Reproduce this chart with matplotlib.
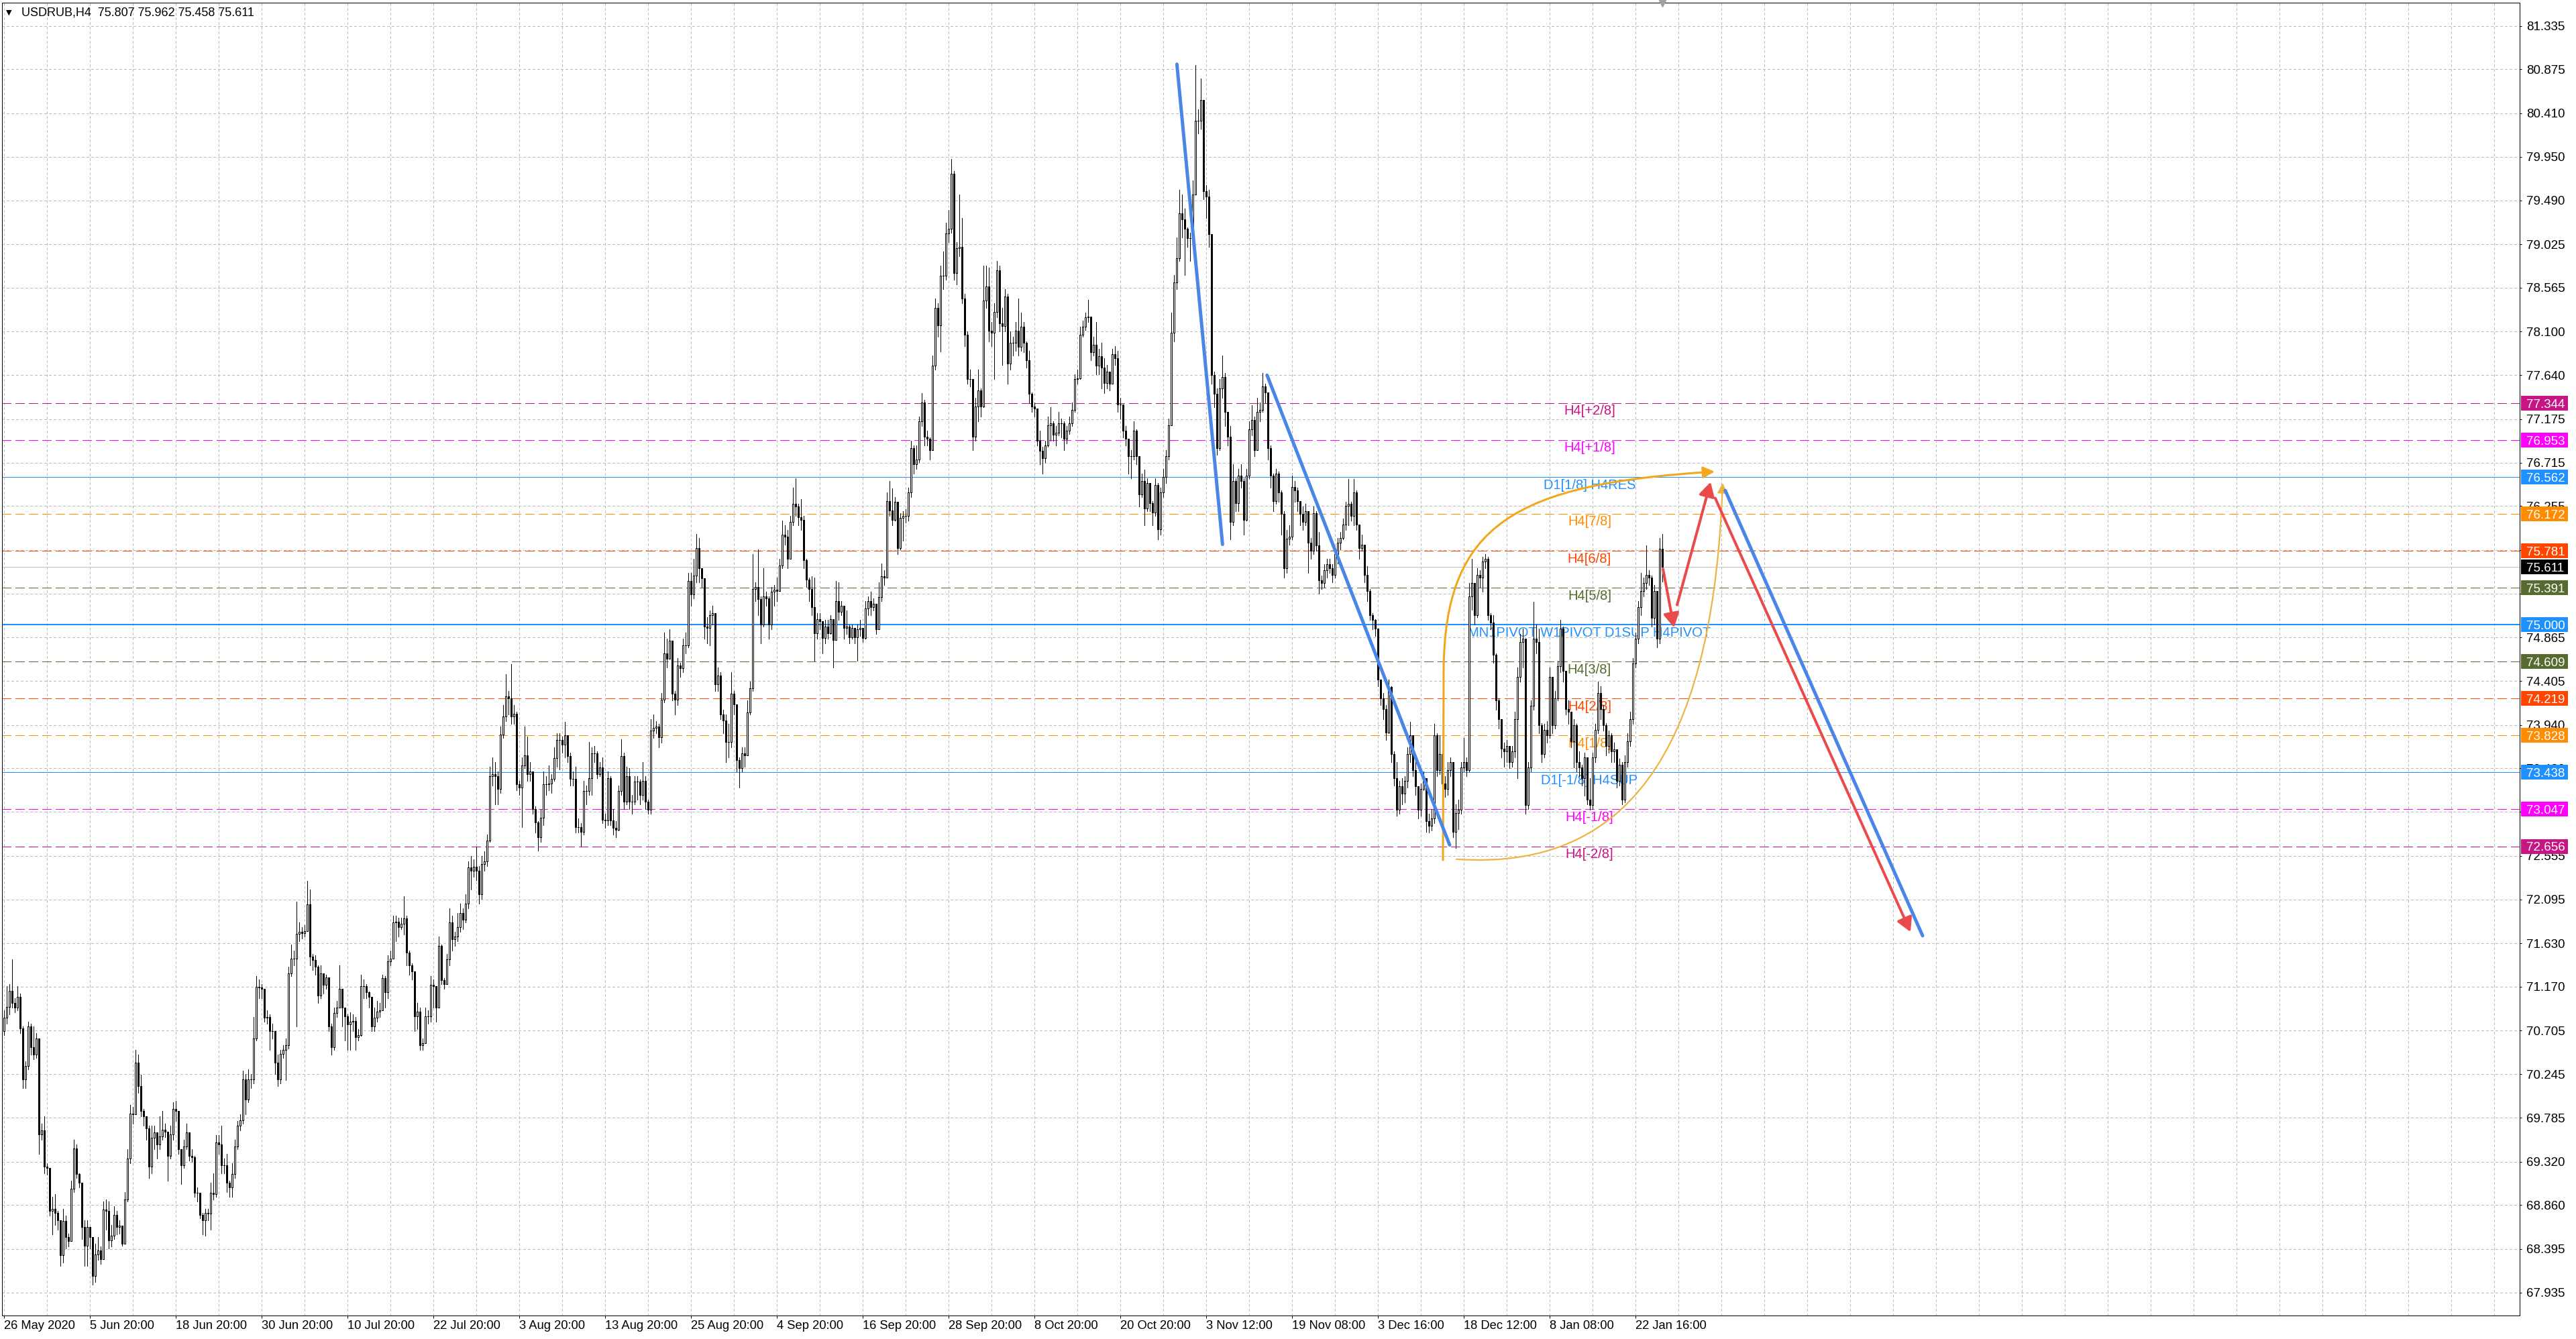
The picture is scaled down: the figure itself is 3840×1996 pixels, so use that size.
import numpy as np
import matplotlib
matplotlib.use("Agg")
import matplotlib.pyplot as plt
from matplotlib.patches import FancyArrowPatch, Rectangle
from matplotlib.path import Path
import matplotlib.transforms as mtransforms

plt.rcParams['font.family'] = ['Liberation Sans', 'DejaVu Sans']
plt.rcParams['lines.scale_dashes'] = False

# ---------------- data ----------------
symbol = "USDRUB,H4"
last_ohlc = [75.807, 75.962, 75.458, 75.611]
first_open = 70.70

closes = [
    70.84, 70.96, 71.13, 71.00, 70.95, 71.06, 70.73, 70.19, 70.33, 70.75,
    70.53, 70.45, 70.62, 69.61, 69.65, 69.27, 69.25, 68.80, 68.82, 68.78,
    68.70, 68.33, 68.69, 68.52, 68.48, 69.03, 69.46, 69.19, 69.10, 68.63,
    68.43, 68.63, 68.52, 68.11, 68.34, 68.38, 68.29, 68.81, 68.80, 68.49,
    68.54, 68.76, 68.63, 68.64, 68.45, 68.92, 69.35, 69.83, 69.82, 70.37,
    70.12, 69.86, 69.80, 69.67, 69.27, 69.57, 69.63, 69.50, 69.59, 69.66,
    69.64, 69.38, 69.61, 69.88, 69.86, 69.45, 69.28, 69.48, 69.63, 69.38,
    69.37, 68.99, 68.99, 68.76, 68.70, 68.78, 68.77, 68.99, 68.98, 69.52,
    69.50, 69.28, 69.28, 69.10, 69.05, 69.19, 69.48, 69.70, 69.76, 70.19,
    69.98, 70.19, 70.19, 70.62, 71.17, 71.16, 71.15, 70.84, 70.85, 70.70,
    70.70, 70.37, 70.19, 70.46, 70.50, 70.55, 71.31, 71.47, 71.47, 71.73,
    71.75, 71.74, 71.76, 72.04, 71.49, 71.45, 71.38, 71.08, 71.31, 71.19,
    71.27, 70.75, 70.53, 70.89, 70.95, 71.15, 70.95, 70.86, 70.77, 70.80,
    70.81, 70.64, 70.66, 71.18, 71.18, 71.11, 71.06, 70.75, 70.84, 70.91,
    70.92, 71.26, 71.11, 71.44, 71.47, 71.85, 71.86, 71.80, 71.84, 71.89,
    71.53, 71.40, 71.33, 70.86, 70.91, 70.55, 70.57, 70.86, 70.86, 71.19,
    71.18, 70.95, 71.60, 71.24, 71.20, 71.46, 71.85, 71.67, 71.70, 71.80,
    71.95, 71.88, 72.05, 72.43, 72.40, 72.44, 72.40, 72.15, 72.47, 72.50,
    72.72, 73.40, 73.42, 73.40, 73.26, 73.84, 74.03, 74.24, 74.22, 74.03,
    74.06, 73.31, 73.28, 73.51, 73.62, 73.42, 73.45, 73.05, 72.91, 72.75,
    72.96, 73.31, 73.31, 73.32, 73.37, 73.59, 73.78, 73.78, 73.73, 73.83,
    73.61, 73.37, 73.37, 72.86, 72.86, 72.81, 73.24, 73.24, 73.38, 73.64,
    73.64, 73.42, 73.49, 72.94, 72.93, 73.38, 72.93, 72.85, 72.83, 73.24,
    73.61, 73.13, 73.40, 73.13, 73.13, 73.34, 73.34, 73.20, 73.35, 73.13,
    73.04, 73.88, 73.91, 73.92, 73.81, 74.21, 74.70, 74.64, 74.83, 74.27,
    74.21, 74.57, 74.54, 74.78, 74.78, 75.46, 75.32, 75.52, 75.81, 75.60,
    75.49, 74.98, 74.97, 75.10, 75.12, 74.37, 74.46, 74.05, 73.99, 73.76,
    73.76, 74.27, 74.16, 73.57, 73.48, 73.64, 73.62, 74.07, 74.33, 75.38,
    75.40, 75.27, 75.00, 75.30, 75.28, 75.00, 75.35, 75.37, 75.36, 75.63,
    75.95, 75.93, 75.70, 76.09, 76.28, 76.25, 76.14, 76.11, 75.68, 75.48,
    75.38, 75.19, 74.91, 75.06, 75.04, 74.86, 74.98, 74.91, 75.06, 74.84,
    75.25, 75.14, 75.20, 74.97, 74.98, 74.87, 74.97, 74.87, 74.95, 74.97,
    74.86, 75.17, 75.25, 75.19, 75.22, 74.95, 75.29, 75.51, 75.50, 76.31,
    76.21, 76.11, 76.30, 75.81, 76.13, 76.15, 76.15, 76.40, 76.87, 76.70,
    76.75, 77.15, 77.35, 76.99, 76.97, 76.85, 77.74, 78.35, 78.17, 78.69,
    78.69, 79.14, 79.19, 79.77, 78.72, 78.98, 79.00, 78.45, 78.07, 77.60,
    77.60, 76.99, 77.31, 77.48, 77.31, 78.43, 78.58, 78.11, 78.09, 78.31,
    78.75, 78.19, 78.16, 78.47, 77.76, 77.98, 77.98, 78.11, 77.94, 78.15,
    77.98, 77.80, 77.44, 77.31, 77.29, 76.95, 76.84, 76.76, 76.90, 77.11,
    77.13, 77.01, 77.03, 77.13, 77.13, 76.97, 77.05, 77.13, 77.27, 77.60,
    77.61, 78.07, 78.15, 78.25, 78.26, 77.88, 77.96, 77.74, 77.84, 77.72,
    77.56, 77.68, 77.55, 77.86, 77.82, 77.33, 77.33, 77.05, 76.97, 76.78,
    76.78, 77.05, 76.78, 76.38, 76.52, 76.23, 76.50, 76.29, 76.19, 76.48,
    76.01, 76.40, 76.56, 76.78, 77.11, 78.09, 78.62, 78.88, 79.35, 79.29,
    79.19, 79.09, 79.09, 79.55, 80.33, 80.33, 80.55, 79.59, 79.53, 79.13,
    77.64, 77.44, 76.87, 77.50, 77.62, 77.25, 76.99, 76.09, 76.52, 76.29,
    76.58, 76.52, 76.11, 76.58, 77.07, 77.17, 76.85, 77.25, 77.27, 77.52,
    77.46, 76.87, 76.58, 76.31, 76.60, 76.40, 76.17, 75.60, 75.91, 75.93,
    76.46, 76.42, 76.31, 76.17, 76.09, 76.20, 75.87, 75.78, 76.18, 75.84,
    75.47, 75.44, 75.58, 75.64, 75.60, 75.53, 75.75, 75.87, 75.92, 76.06,
    76.26, 76.28, 76.15, 76.40, 76.06, 75.81, 75.85, 75.53, 75.36, 75.10,
    75.05, 74.96, 74.42, 74.22, 74.11, 73.86, 74.34, 73.63, 73.38, 73.04,
    73.29, 73.21, 73.35, 73.63, 73.83, 73.46, 73.29, 73.04, 73.26, 73.38,
    72.92, 72.87, 72.95, 73.83, 73.46, 73.63, 73.32, 73.26, 73.46, 73.55,
    72.81, 73.01, 73.04, 73.49, 73.55, 73.46, 75.30, 75.44, 75.10, 75.53,
    75.50, 75.67, 75.70, 75.10, 75.02, 74.68, 74.20, 74.00, 73.69, 73.66,
    73.72, 73.55, 73.66, 74.00, 74.45, 74.82, 74.85, 73.09, 73.49, 74.14,
    74.85, 74.82, 73.94, 73.63, 73.89, 73.83, 74.45, 73.94, 74.22, 74.56,
    74.96, 74.51, 74.11, 74.08, 73.77, 73.94, 73.55, 73.49, 73.38, 73.60,
    73.15, 73.09, 73.60, 73.89, 74.28, 74.11, 73.94, 73.72, 73.83, 73.66,
    73.68, 73.35, 73.52, 73.15, 73.55, 73.77, 74.00, 74.59, 74.85, 75.19,
    75.36, 75.44, 75.53, 75.50, 75.07, 75.36, 74.85, 75.807, 75.611,
]

highs = [
    70.92, 71.18, 71.20, 71.46, 71.05, 71.18, 71.10, 70.75, 70.38, 70.80,
    70.78, 70.75, 70.68, 70.00, 69.72, 69.80, 69.30, 69.18, 68.95, 68.98,
    68.80, 68.60, 68.82, 68.75, 68.56, 69.12, 69.55, 69.50, 69.20, 68.85,
    68.70, 68.70, 68.62, 68.40, 68.45, 68.52, 68.42, 68.90, 68.92, 68.90,
    68.65, 68.85, 68.80, 68.70, 68.62, 69.00, 69.45, 69.92, 69.90, 70.50,
    70.45, 70.24, 69.88, 69.80, 69.70, 69.70, 69.70, 69.60, 69.80, 69.86,
    69.72, 69.60, 69.70, 69.95, 69.96, 69.82, 69.45, 69.55, 69.72, 69.62,
    69.45, 69.38, 69.05, 68.95, 68.78, 68.82, 68.82, 69.10, 69.20, 69.60,
    69.60, 69.70, 69.35, 69.40, 69.12, 69.30, 69.55, 69.75, 69.82, 70.28,
    70.25, 70.30, 70.25, 70.85, 71.28, 71.25, 71.20, 71.06, 70.92, 70.88,
    70.78, 70.62, 70.45, 70.50, 70.55, 70.62, 71.38, 71.62, 71.55, 72.07,
    71.85, 71.80, 71.82, 72.29, 72.20, 71.52, 71.50, 71.40, 71.40, 71.31,
    71.30, 71.05, 70.78, 70.95, 71.02, 71.40, 71.15, 70.95, 70.88, 70.90,
    70.88, 70.85, 70.72, 71.30, 71.25, 71.20, 71.12, 71.02, 70.95, 71.02,
    71.00, 71.30, 71.28, 71.50, 71.55, 71.92, 71.92, 71.90, 71.90, 72.13,
    71.92, 71.55, 71.42, 71.15, 71.00, 70.95, 70.62, 70.95, 70.92, 71.28,
    71.25, 71.10, 71.70, 71.62, 71.26, 71.52, 72.00, 71.92, 71.75, 71.95,
    72.05, 72.00, 72.15, 72.50, 72.55, 72.52, 72.65, 72.45, 72.55, 72.60,
    72.78, 73.50, 73.60, 73.55, 73.45, 73.92, 74.15, 74.48, 74.30, 74.58,
    74.15, 74.08, 73.35, 73.60, 73.92, 73.82, 73.55, 73.40, 73.08, 72.92,
    73.05, 73.45, 73.40, 73.51, 73.42, 73.70, 73.85, 73.85, 73.82, 73.97,
    73.80, 73.65, 73.45, 73.50, 72.95, 72.90, 73.35, 73.30, 73.76, 73.70,
    73.72, 73.66, 73.55, 73.60, 73.00, 73.45, 73.40, 73.05, 72.92, 73.30,
    73.79, 73.65, 73.50, 73.48, 73.20, 73.40, 73.40, 73.36, 73.55, 73.40,
    73.15, 74.00, 74.05, 73.98, 73.95, 74.28, 74.92, 74.85, 74.95, 74.80,
    74.30, 74.65, 74.60, 74.85, 74.92, 75.55, 75.55, 75.70, 75.96, 75.92,
    75.60, 75.45, 75.08, 75.15, 75.20, 75.10, 74.55, 74.50, 74.10, 74.05,
    73.95, 74.50, 74.30, 74.10, 73.60, 73.70, 73.70, 74.20, 74.40, 75.75,
    75.45, 75.80, 75.30, 75.60, 75.35, 75.30, 75.40, 75.42, 75.50, 75.70,
    76.10, 76.05, 76.00, 76.15, 76.45, 76.55, 76.28, 76.33, 76.15, 75.70,
    75.50, 75.51, 75.50, 75.12, 75.12, 75.00, 75.05, 75.05, 75.10, 74.90,
    75.46, 75.45, 75.25, 75.20, 75.15, 75.00, 75.00, 74.95, 75.00, 75.05,
    74.95, 75.25, 75.30, 75.35, 75.28, 75.05, 75.45, 75.65, 75.58, 76.40,
    76.52, 76.44, 76.35, 76.25, 76.18, 76.20, 76.22, 76.45, 76.95, 76.90,
    76.90, 77.20, 77.45, 77.38, 77.05, 76.98, 77.85, 78.45, 78.40, 78.80,
    78.95, 79.25, 79.39, 79.93, 79.80, 79.05, 79.55, 79.30, 78.50, 78.10,
    77.70, 77.40, 77.40, 77.70, 77.50, 78.80, 78.80, 78.78, 78.20, 78.40,
    78.85, 78.80, 78.35, 78.55, 78.50, 78.10, 78.05, 78.20, 78.45, 78.30,
    78.20, 78.00, 77.90, 77.46, 77.35, 77.25, 77.05, 76.88, 76.95, 77.20,
    77.30, 77.15, 77.10, 77.25, 77.18, 77.15, 77.10, 77.20, 77.35, 77.65,
    77.70, 78.15, 78.22, 78.30, 78.44, 78.25, 78.05, 78.20, 77.92, 77.98,
    77.82, 77.75, 77.60, 77.92, 77.95, 77.90, 77.40, 77.20, 77.10, 76.97,
    76.85, 77.15, 77.07, 76.75, 76.60, 76.64, 76.55, 76.50, 76.31, 76.55,
    76.50, 76.45, 76.65, 76.85, 77.18, 78.30, 78.70, 79.10, 79.60, 79.55,
    79.40, 79.20, 79.15, 79.70, 80.92, 80.45, 80.78, 80.50, 79.65, 79.60,
    78.66, 77.68, 77.50, 77.60, 77.85, 77.66, 77.25, 77.10, 76.70, 76.55,
    76.65, 76.70, 76.55, 76.65, 77.15, 77.32, 77.20, 77.40, 77.35, 77.66,
    77.55, 77.07, 76.90, 76.60, 76.65, 76.62, 76.42, 76.20, 76.00, 76.05,
    76.58, 76.52, 76.45, 76.30, 76.25, 76.28, 76.15, 75.92, 76.25, 76.20,
    75.98, 75.52, 75.64, 75.70, 75.70, 75.64, 75.80, 75.92, 75.98, 76.12,
    76.30, 76.54, 76.30, 76.54, 76.42, 76.06, 75.95, 75.80, 75.62, 75.38,
    75.12, 75.06, 74.90, 74.40, 74.28, 74.15, 74.42, 74.35, 73.66, 73.55,
    73.35, 73.38, 73.40, 73.70, 73.97, 73.75, 73.60, 73.26, 73.32, 73.45,
    73.35, 73.00, 73.05, 73.95, 73.85, 73.83, 73.65, 73.40, 73.55, 73.60,
    73.45, 73.10, 73.15, 73.55, 73.80, 73.60, 75.44, 75.70, 75.40, 75.60,
    75.58, 75.72, 75.75, 75.72, 75.12, 75.10, 74.70, 74.22, 73.98, 73.75,
    73.78, 73.72, 73.72, 74.08, 74.55, 74.90, 74.96, 74.08, 73.55, 74.20,
    75.24, 75.00, 74.96, 73.96, 73.95, 73.98, 74.55, 74.45, 74.30, 74.62,
    75.05, 74.98, 74.45, 74.20, 74.00, 74.00, 73.95, 73.66, 73.52, 73.65,
    73.60, 73.38, 73.65, 73.95, 74.40, 74.35, 74.15, 73.96, 73.88, 73.85,
    73.75, 73.65, 73.58, 73.55, 73.62, 73.85, 74.08, 74.65, 74.92, 75.25,
    75.55, 75.50, 75.84, 75.58, 75.52, 75.42, 75.30, 75.92, 75.962,
]

lows = [
    70.66, 70.78, 70.88, 70.95, 70.90, 70.92, 70.68, 70.10, 70.10, 70.30,
    70.45, 70.40, 70.42, 69.40, 69.55, 69.20, 69.18, 68.75, 68.55, 68.65,
    68.60, 68.22, 68.25, 68.40, 68.42, 68.85, 69.00, 69.15, 69.05, 68.50,
    68.22, 68.22, 68.40, 68.02, 68.05, 68.28, 68.24, 68.45, 68.60, 68.40,
    68.42, 68.50, 68.55, 68.56, 68.43, 68.45, 68.90, 69.30, 69.72, 69.85,
    70.05, 69.80, 69.70, 69.55, 69.15, 69.20, 69.45, 69.35, 69.45, 69.55,
    69.58, 69.12, 69.35, 69.55, 69.75, 69.40, 69.08, 69.25, 69.45, 69.33,
    69.32, 68.95, 68.90, 68.72, 68.55, 68.54, 68.70, 68.60, 68.92, 68.95,
    69.40, 69.20, 69.20, 69.00, 68.95, 68.95, 69.15, 69.45, 69.65, 69.72,
    69.82, 69.95, 70.10, 70.15, 70.60, 71.05, 71.05, 70.80, 70.78, 70.50,
    70.62, 70.25, 70.12, 70.15, 70.42, 70.18, 70.52, 71.28, 71.40, 70.75,
    71.65, 71.68, 71.70, 71.80, 71.40, 71.35, 71.30, 71.00, 71.05, 71.10,
    71.15, 70.70, 70.45, 70.50, 70.85, 70.95, 70.75, 70.60, 70.50, 70.50,
    70.70, 70.50, 70.60, 70.65, 71.05, 71.05, 70.95, 70.70, 70.70, 70.80,
    70.85, 71.00, 70.95, 71.05, 71.40, 71.55, 71.65, 71.70, 71.78, 71.72,
    71.40, 71.30, 71.25, 70.70, 70.72, 70.50, 70.50, 70.70, 70.78, 70.80,
    70.95, 70.80, 70.95, 71.20, 71.15, 71.30, 71.40, 71.55, 71.60, 71.65,
    71.75, 71.78, 71.85, 72.00, 72.20, 72.33, 72.30, 72.05, 72.10, 72.40,
    72.45, 72.70, 73.30, 73.10, 73.10, 73.22, 73.80, 73.98, 74.05, 73.95,
    73.95, 73.25, 73.20, 72.86, 73.48, 73.35, 73.35, 73.00, 72.80, 72.61,
    72.70, 72.88, 73.20, 73.25, 73.22, 73.35, 73.50, 73.47, 73.65, 73.60,
    73.55, 73.30, 73.30, 72.80, 72.80, 72.66, 72.78, 73.10, 73.20, 73.20,
    73.55, 73.38, 73.40, 72.90, 72.85, 72.88, 72.88, 72.78, 72.75, 72.82,
    73.20, 73.05, 73.10, 73.05, 73.00, 73.10, 73.15, 73.10, 73.15, 73.05,
    73.00, 73.00, 73.80, 73.85, 73.70, 73.75, 74.18, 74.55, 74.70, 74.20,
    74.05, 74.15, 74.45, 74.50, 74.70, 74.76, 75.20, 75.28, 75.45, 75.45,
    75.40, 74.85, 74.80, 74.78, 75.00, 74.30, 74.30, 74.00, 73.85, 73.55,
    73.60, 73.70, 74.05, 73.45, 73.28, 73.45, 73.50, 73.70, 74.05, 74.30,
    75.25, 75.10, 74.80, 74.98, 75.20, 74.85, 74.95, 75.20, 75.25, 75.42,
    75.60, 75.85, 75.60, 75.70, 76.05, 76.15, 76.05, 76.00, 75.60, 75.40,
    75.25, 75.10, 74.62, 74.85, 74.95, 74.70, 74.80, 74.85, 74.90, 74.55,
    74.84, 75.05, 75.10, 74.85, 74.90, 74.80, 74.85, 74.80, 74.62, 74.88,
    74.82, 74.85, 75.10, 75.10, 75.15, 74.90, 74.95, 75.25, 75.42, 75.50,
    76.15, 76.05, 76.10, 75.75, 75.80, 75.89, 76.08, 76.10, 76.35, 76.60,
    76.65, 76.72, 77.10, 76.90, 76.90, 76.75, 76.85, 77.70, 78.05, 77.89,
    78.55, 78.65, 79.05, 79.15, 78.65, 78.60, 78.90, 78.40, 77.95, 77.55,
    77.52, 76.85, 76.95, 77.15, 77.20, 77.30, 78.35, 78.00, 77.95, 77.60,
    78.25, 78.10, 77.75, 78.10, 77.55, 77.70, 77.85, 77.90, 77.85, 77.90,
    77.88, 77.72, 77.35, 77.25, 77.20, 76.90, 76.70, 76.60, 76.72, 76.88,
    76.95, 76.95, 76.90, 77.00, 76.98, 76.85, 76.92, 77.02, 77.10, 77.25,
    77.55, 77.60, 78.05, 78.12, 78.20, 77.80, 77.85, 77.65, 77.65, 77.50,
    77.45, 77.50, 77.48, 77.55, 77.75, 77.25, 77.18, 76.98, 76.90, 76.60,
    76.55, 76.75, 76.70, 76.25, 76.35, 76.05, 76.20, 76.20, 76.05, 76.15,
    75.90, 75.95, 76.35, 76.50, 76.75, 77.35, 78.00, 78.55, 78.85, 79.10,
    78.70, 79.00, 78.85, 79.05, 79.55, 80.20, 80.25, 79.50, 79.30, 79.00,
    77.55, 77.30, 76.80, 76.85, 77.40, 77.10, 76.90, 75.90, 76.05, 76.20,
    76.20, 76.45, 75.95, 76.10, 76.55, 77.00, 76.78, 76.85, 77.15, 77.25,
    77.35, 76.75, 76.45, 76.20, 76.28, 76.30, 75.95, 75.50, 75.55, 75.85,
    75.90, 76.30, 76.20, 76.05, 76.00, 76.05, 75.55, 75.70, 75.75, 75.78,
    75.33, 75.38, 75.40, 75.50, 75.55, 75.45, 75.50, 75.65, 75.80, 75.90,
    76.00, 76.05, 76.10, 76.05, 76.00, 75.70, 75.78, 75.45, 75.25, 75.05,
    74.95, 74.88, 74.35, 74.15, 74.00, 73.78, 73.85, 73.55, 73.30, 72.98,
    73.00, 73.10, 73.12, 73.28, 73.55, 73.40, 73.20, 72.95, 72.98, 73.25,
    72.81, 72.80, 72.82, 72.90, 73.40, 73.42, 73.25, 73.18, 73.20, 73.40,
    72.75, 72.64, 72.84, 73.00, 73.45, 73.40, 73.45, 75.16, 75.00, 75.08,
    75.40, 75.35, 75.60, 75.05, 74.95, 74.60, 74.10, 73.90, 73.60, 73.50,
    73.55, 73.48, 73.50, 73.60, 73.38, 74.40, 74.55, 73.00, 73.05, 73.45,
    74.10, 74.70, 73.85, 73.55, 73.60, 73.75, 73.80, 73.85, 73.90, 74.20,
    74.50, 74.40, 74.05, 73.95, 73.70, 73.49, 73.45, 73.40, 73.30, 73.19,
    73.10, 73.04, 73.05, 73.55, 73.85, 74.00, 73.88, 73.62, 73.65, 73.55,
    73.55, 73.28, 73.30, 73.10, 73.12, 73.50, 73.72, 73.95, 74.55, 74.80,
    75.10, 75.30, 75.38, 75.42, 74.98, 75.00, 74.76, 74.80, 75.458,
]

date_labels = ["26 May 2020", "5 Jun 20:00", "18 Jun 20:00", "30 Jun 20:00",
               "10 Jul 20:00", "22 Jul 20:00", "3 Aug 20:00", "13 Aug 20:00",
               "25 Aug 20:00", "4 Sep 20:00", "16 Sep 20:00", "28 Sep 20:00",
               "8 Oct 20:00", "20 Oct 20:00", "3 Nov 12:00", "19 Nov 08:00",
               "3 Dec 16:00", "18 Dec 12:00", "8 Jan 08:00", "22 Jan 16:00"]

price_ticks = [81.335, 80.875, 80.410, 79.950, 79.490, 79.025, 78.565, 78.100,
               77.640, 77.175, 76.715, 76.255, 75.790, 75.330, 74.865, 74.405,
               73.940, 73.480, 73.020, 72.555, 72.095, 71.630, 71.170, 70.705,
               70.245, 69.785, 69.320, 68.860, 68.395, 67.935]
# tick labels fully covered by level price boxes in the reference
hidden_tick_labels = [75.330, 73.020]

level_prices = [77.344, 76.953, 76.562, 76.172, 75.781, 75.391, 75.000,
                74.609, 74.219, 73.828, 73.438, 73.047, 72.656]
level_names = ["H4[+2/8]", "H4[+1/8]", "D1[1/8] H4RES", "H4[7/8]", "H4[6/8]",
               "H4[5/8]", "MN1PIVOT W1PIVOT D1SUP H4PIVOT", "H4[3/8]", "H4[2/8]",
               "H4[1/8]", "D1[-1/8] H4SUP", "H4[-1/8]", "H4[-2/8]"]
level_colors = ["#C71585", "#FF00FF", "#1E90FF", "#FF8C00", "#FF4500", "#556B2F",
                "#1E90FF", "#556B2F", "#FF4500", "#FF8C00", "#1E90FF", "#FF00FF",
                "#C71585"]
level_kinds = ["dash", "dash", "solid", "dash", "dash", "dash", "pivot",
               "dash", "dash", "dash", "solid", "dash", "dash"]
bid_price = 75.611

# hand-drawn annotations: (bar index, price) anchor points
blue_trend_1 = [(437.15, 80.93), (454.15, 75.85)]
blue_trend_2 = [(470.75, 77.64), (538.8, 72.67)]
blue_projection = [(641.5, 76.42), (715.05, 71.71)]
red_dip = [(618.3, 75.59), (622.4, 74.97)]
red_rise = [(623.55, 75.21), (636.05, 76.51)]
red_fall = [(637.75, 76.34), (710.55, 71.75)]
gold_upper = [(536.3, 72.51), (536.55, 74.51), (536.8, 76.07), (563.55, 76.49), (637.55, 76.62)]
gold_lower = [(541.3, 72.52), (611.05, 72.38), (637.3, 73.94), (640.55, 76.50)]

# ---------------- figure ----------------
W, H = 3840, 1996
PX = 0.72  # one pixel in points at dpi 100
fig = plt.figure(figsize=(W / 100, H / 100), dpi=100, facecolor='white')
L, R, T, B = 3, 3756, 4, 1961
ax = fig.add_axes([L / W, 1 - B / H, (R - L) / W, (B - T) / H])
ax.set_facecolor('white')
ax.set_xlim(-0.7, 937.55)
ax.set_ylim(67.692, 81.581)
for s in ax.spines.values():
    s.set_color('black')
    s.set_linewidth(PX)

# grid
grid_kw = dict(color='#BDBDBD', lw=PX, linestyle=(0, (2.2, 2.2)), zorder=0.5,
               antialiased=False)
for gx in range(0, 938, 16):
    ax.axvline(gx, **grid_kw)
for p in price_ticks:
    ax.axhline(p, **grid_kw)

# y axis (right)
ax.yaxis.tick_right()
ax.set_yticks(price_ticks)
ax.set_yticklabels(["" if p in hidden_tick_labels else f"{p:.3f}" for p in price_ticks])
ax.tick_params(axis='y', direction='out', length=2.5, width=PX, pad=5,
               labelsize=13.5, colors='black')

# x axis
ax.set_xticks([32 * k for k in range(len(date_labels))])
ax.set_xticklabels(date_labels, ha='left')
ax.tick_params(axis='x', direction='out', length=3, width=PX, pad=2,
               labelsize=13.2, colors='black')

# level lines
for p, c, kind in zip(level_prices, level_colors, level_kinds):
    if kind == 'dash':
        ax.axhline(p, color=c, lw=PX, linestyle=(0, (10, 4.5)), zorder=1,
                   antialiased=False)
    elif kind == 'solid':
        ax.axhline(p, color=c, lw=PX, zorder=1, antialiased=False)
    else:
        ax.axhline(p, color=c, lw=2 * PX, zorder=1, antialiased=False)
ax.axhline(bid_price, color='#C0C0C0', lw=PX, zorder=1, antialiased=False)

# level texts
label_bar = 590.9
for p, name, c in zip(level_prices, level_names, level_colors):
    ax.text(label_bar, p - 0.084, name, color=c, fontsize=14.5,
            ha='center', va='center', zorder=2)

# candles
c_arr = np.array(closes, dtype=float)
o_arr = np.array([first_open] + closes[:-1], dtype=float)
h_arr = np.maximum.reduce([np.array(highs, dtype=float), o_arr, c_arr])
l_arr = np.minimum.reduce([np.array(lows, dtype=float), o_arr, c_arr])
xs = np.arange(len(c_arr))
ax.vlines(xs, l_arr, h_arr, color='black', lw=PX, zorder=3, antialiased=False)
up = c_arr >= o_arr
ax.bar(xs[up], (c_arr - o_arr)[up], bottom=o_arr[up], width=0.45,
       facecolor='white', edgecolor='black', linewidth=PX, zorder=4,
       antialiased=False)
ax.bar(xs[~up], (o_arr - c_arr)[~up], bottom=c_arr[~up], width=0.45,
       facecolor='black', edgecolor='black', linewidth=PX, zorder=4,
       antialiased=False)

# hand-drawn annotations
blue = '#4A86E8'
red = '#E94B4B'
gold = '#F2A81D'
for seg in (blue_trend_1, blue_trend_2, blue_projection):
    ax.plot([seg[0][0], seg[1][0]], [seg[0][1], seg[1][1]], color=blue, lw=3.6,
            solid_capstyle='round', zorder=7)
for seg in (red_dip, red_rise, red_fall):
    ax.add_patch(FancyArrowPatch(seg[0], seg[1],
                                 arrowstyle='-|>,head_length=0.9,head_width=0.5',
                                 mutation_scale=14, color=red, lw=2.9,
                                 shrinkA=0, shrinkB=0, zorder=7))
path_u = Path(gold_upper, [Path.MOVETO, Path.LINETO, Path.CURVE4, Path.CURVE4, Path.CURVE4])
ax.add_patch(FancyArrowPatch(path=path_u, arrowstyle='-|>,head_length=0.8,head_width=0.4',
                             mutation_scale=13, color=gold, lw=2.2, zorder=6))
path_l = Path(gold_lower, [Path.MOVETO, Path.CURVE4, Path.CURVE4, Path.CURVE4])
ax.add_patch(FancyArrowPatch(path=path_l, arrowstyle='-|>,head_length=0.8,head_width=0.4',
                             mutation_scale=11, color='#EDB443', lw=1.6, zorder=6))

# right-side price boxes
trans = mtransforms.blended_transform_factory(ax.transAxes, ax.transData)
axw = R - L
box_h = 22 / 140.9
box_items = list(zip(level_prices, level_colors)) + [(bid_price, 'black')]
for p, c in box_items:
    ax.add_patch(Rectangle((1 + 2 / axw, p - box_h / 2), 70 / axw, box_h, transform=trans,
                           facecolor=c, edgecolor='none', clip_on=False, zorder=20))
    ax.text(1 + 10.5 / axw, p, f"{p:.3f}", transform=trans, color='white', fontsize=13.5,
            va='center_baseline', ha='left', clip_on=False, zorder=21)

# shift marker at top
ax.plot([618.05], [81.581], marker='v', markersize=8, color='#A0A0A0',
        clip_on=False, zorder=30)

# header
header = f"{symbol}  " + " ".join(f"{v:.3f}" for v in last_ohlc)
fig.text(32.5 / W, 1 - 19 / H, header, fontsize=13, va='center', ha='left', color='black')
fig.text(12.8 / W, 1 - 19 / H, '\u25BC', family='DejaVu Sans', fontsize=8,
         ha='center', va='center', color='black')

fig.savefig('out.png', dpi=100, facecolor='white')
